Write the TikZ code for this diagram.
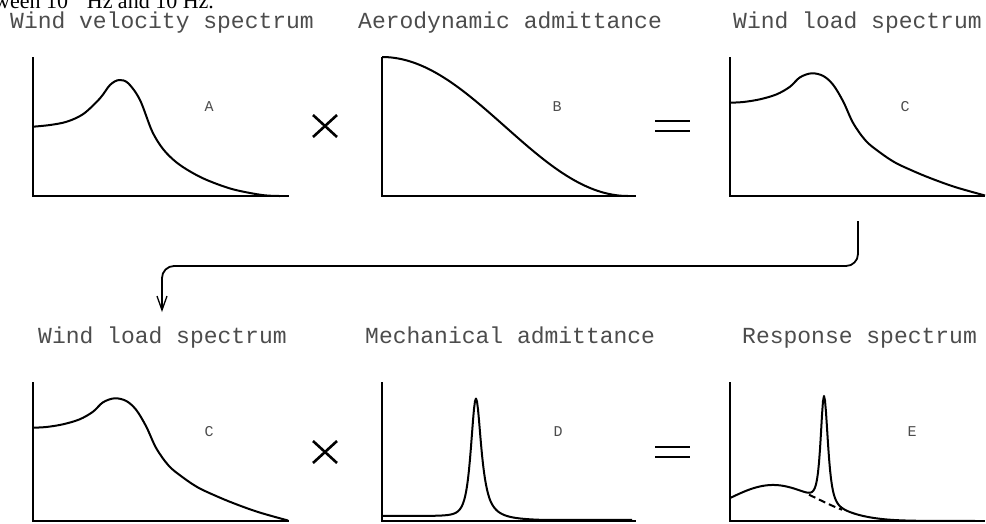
\documentclass[tikz,border=0pt]{standalone}
\usepackage{fontspec}
\setmainfont{Liberation Serif}
\setmonofont{Liberation Mono}
\usetikzlibrary{arrows.meta}
\begin{document}
\begin{tikzpicture}[x=1pt,y=-1pt,
  axis/.style={line width=2pt},
  curve/.style={line width=2pt, line join=round},
  title/.style={font=\fontsize{23}{23}\selectfont\ttfamily, text=black!70, anchor=base west, inner sep=0pt},
  lbl/.style={font=\fontsize{15}{15}\selectfont\ttfamily, text=black!70, inner sep=0pt},
  op/.style={line width=2.6pt},
  flow/.style={line width=1.8pt, rounded corners=12pt, -{Straight Barb[length=14pt,width=10pt,line width=1.3pt]}},
]
\useasboundingbox (0,0) rectangle (986,523);

% cropped text at the very top
\begin{scope}
\clip (0,0) rectangle (986,523);
\node[anchor=base west, inner sep=0pt, font=\fontsize{22}{22}\selectfont] (cut) at (-6,8) {ween 10\textsuperscript{$-1$}Hz and 10 Hz.};
\end{scope}

% titles
\node[title] (t1) at (10,28) {Wind velocity spectrum};
\node[title] (t2) at (358,28) {Aerodynamic admittance};
\node[title] (t3) at (733,28) {Wind load spectrum};
\node[title] (t4) at (38,343) {Wind load spectrum};
\node[title] (t5) at (365,343) {Mechanical admittance};
\node[title] (t6) at (742,343) {Response spectrum};

% axes
\foreach \ox/\ex in {33/289, 382/636, 730/985}{
  \draw[axis] (\ox,57) -- (\ox,196) -- (\ex,196);
  \draw[axis] (\ox,382) -- (\ox,521) -- (\ex,521);
}

% labels
\node[lbl] (lA) at (209,107) {A};
\node[lbl] (lB) at (557,107) {B};
\node[lbl] (lC) at (905,107) {C};
\node[lbl] (lC2) at (209,432) {C};
\node[lbl] (lD) at (558,432) {D};
\node[lbl] (lE) at (912,432) {E};

% curve A
\draw[curve] plot[smooth, tension=0.55] coordinates {
 (33,126.7) (50,125) (66.7,121.7) (83.3,114) (100,98.3) (110,85) (119,80)
 (128.3,83.3) (140,100) (152,131) (163,149) (176,162) (191,172) (208,180.5)
 (233,189.3) (262,195) (280,196)};

% curve B
\draw[curve] plot[domain=382:628, samples=80] (\x, {57+139*(1-cos(0.7317*(\x-382)))/2});

% curve C (top and bottom)
\draw[curve] plot[smooth, tension=0.55] coordinates {
 (730,102.7) (743.3,102) (760,99.3) (776.7,94.3) (790,86.7) (800,77.3) (811.7,73.3)
 (823.3,76) (833.3,85) (843.3,101.7) (853.3,123.3) (866,141) (880,152.5)
 (895,162.5) (912,170.5) (930,178) (955,187) (985,195.5)};
\begin{scope}[shift={(-697,325)}]
\draw[curve] plot[smooth, tension=0.55] coordinates {
 (730,102.7) (743.3,102) (760,99.3) (776.7,94.3) (790,86.7) (800,77.3) (811.7,73.3)
 (823.3,76) (833.3,85) (843.3,101.7) (853.3,123.3) (866,141) (880,152.5)
 (895,162.5) (912,170.5) (930,178) (955,187) (985,195.5)};
\end{scope}

% curve D
\draw[curve] plot[domain=382:632, samples=251] (\x, {521 - 5*max(0,min(1,(490-\x)/20)) - ifthenelse(\x<476, 119/(1+min(100,((\x-476)/9)^2))^2, 119/(1+min(100,((\x-476)/6.5)^2)))});

% curve E
\draw[curve] plot[domain=730:975, samples=246] (\x, {521 - 36*exp(0-((\x-773)/64)^2) - ifthenelse(\x<824, 106/(1+min(100,((\x-824)/6)^2))^2, 106/(1+min(100,((\x-824)/7)^2))^2)});
\draw[curve, dash pattern=on 7pt off 4pt] plot[domain=809:842, samples=20] (\x, {521-36*exp(0-((\x-773)/64)^2)});

% operators
\draw[op] (313,115) -- (337,137) (313,137) -- (337,115);
\draw[op] (313,441) -- (337,463) (313,463) -- (337,441);
\draw[op] (655,121) -- (690,121) (655,131) -- (690,131);
\draw[op] (655,447) -- (690,447) (655,457) -- (690,457);

% connector
\coordinate (arrS) at (858,221);
\coordinate (arrM) at (858,266);
\coordinate (arrE) at (162,312);
\draw[flow] (arrS) -- (arrM) -| (arrE);
\end{tikzpicture}
\end{document}
